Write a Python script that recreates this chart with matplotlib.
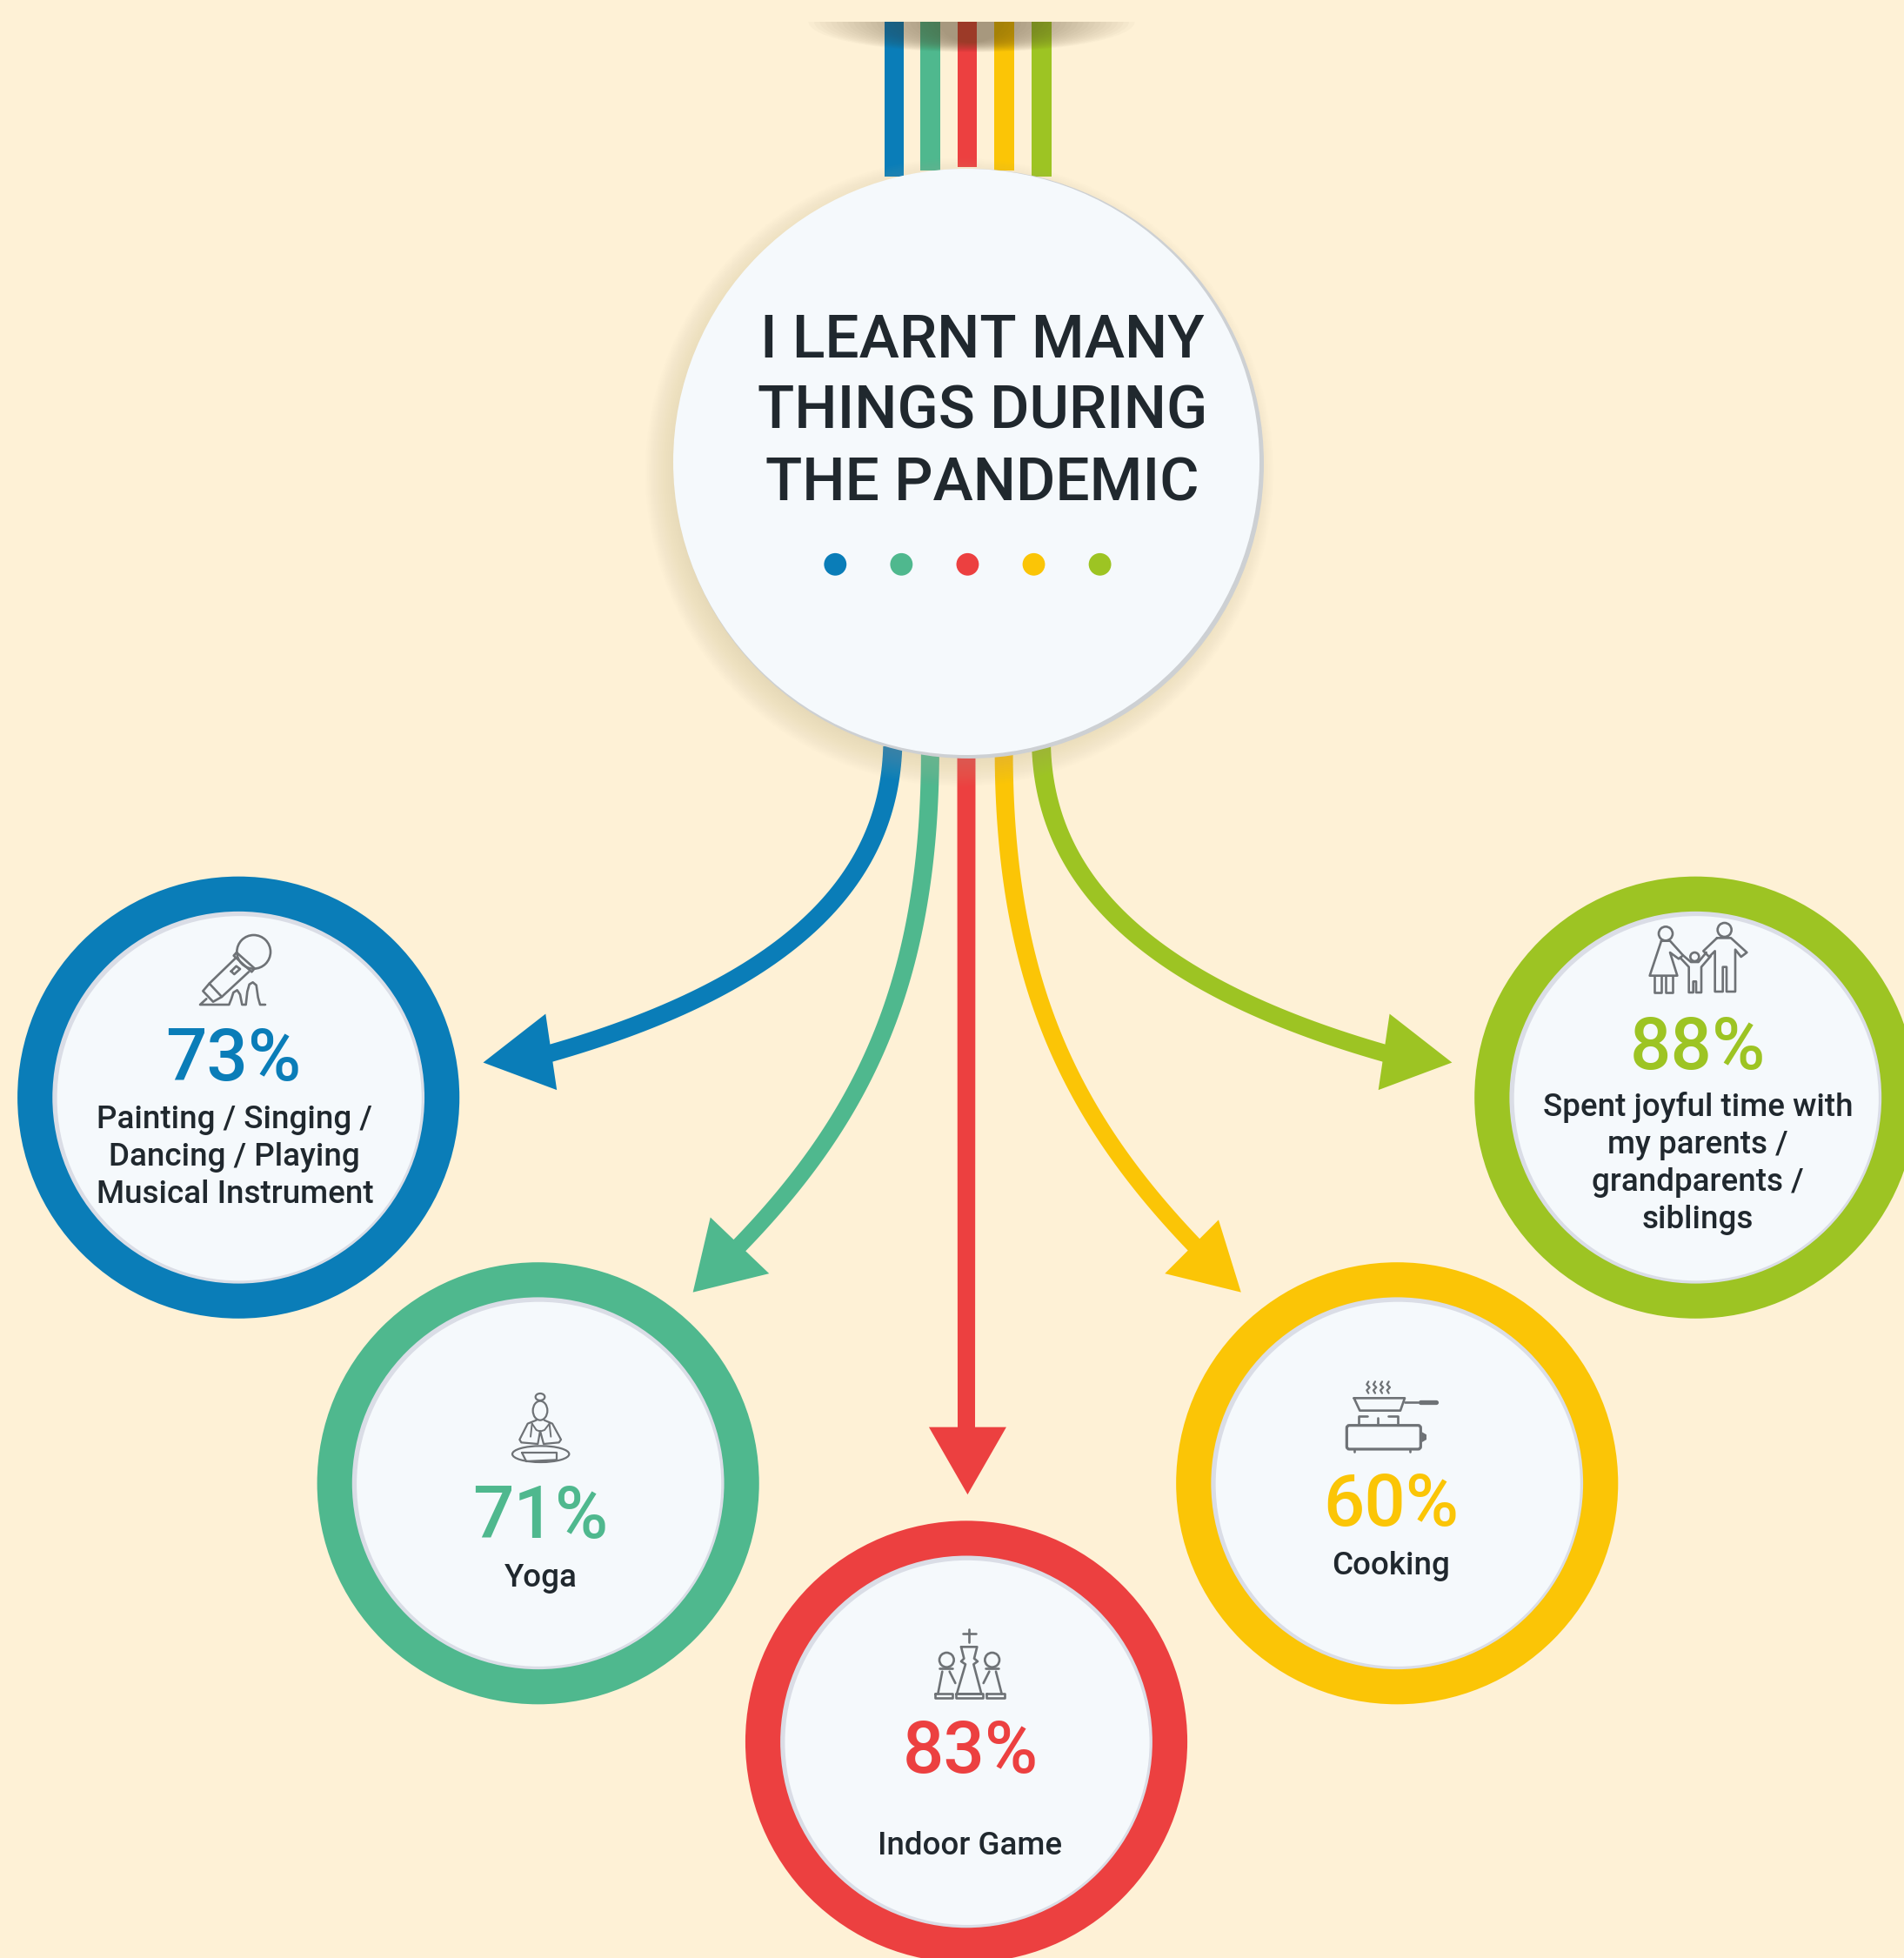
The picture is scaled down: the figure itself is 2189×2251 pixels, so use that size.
import numpy as np
import matplotlib
matplotlib.use("Agg")
import matplotlib.pyplot as plt
from matplotlib.patches import Circle, Ellipse, Polygon, Rectangle, FancyBboxPatch

plt.rcParams['font.family'] = ['Roboto', 'DejaVu Sans']

# data
title_lines = ["I LEARNT MANY", "THINGS DURING", "THE PANDEMIC"]
activities = ["Painting", "Yoga", "Indoor Game", "Cooking", "Family"]
percent = [73, 71, 83, 60, 88]
captions = [
    ["Painting / Singing /", "Dancing / Playing", "Musical Instrument"],
    ["Yoga"],
    ["Indoor Game"],
    ["Cooking"],
    ["Spent joyful time with", "my parents /", "grandparents /", "siblings"],
]
colors = ["#0A7DB8", "#4FB88E", "#EC4040", "#FBC506", "#9DC423"]

BG = "#FEF1D6"
FACE = "#F5F9FC"
INK = "#20282E"
ICON = "#6E7276"

# layout, in the 1525 wide preview coordinates
S = 2189 / 1525
ring_xy = [(191, 879), (431, 1188), (774, 1395), (1119, 1188), (1358, 879)]
pct_xy = [(187, 849), (433, 1216), (777, 1404), (1114, 1206), (1360, 840)]
cap_xy = [(188, 897), (433, 1264), (777, 1479), (1114, 1254), (1360, 887)]
title_y = [273, 330, 388]
curves = [
    [(715, 598), (712, 700), (640, 790), (425, 848)],
    [(745, 600), (745, 790), (690, 900), (582, 1008)],
    [(774, 600), (774, 800), (774, 1000), (774, 1150)],
    [(804, 600), (804, 790), (860, 900), (967, 1008)],
    [(834, 598), (837, 700), (910, 790), (1125, 848)],
]
heads = [
    [(387, 851), (437, 812), (446, 873)],
    [(555, 1035), (569, 975), (616, 1020)],
    [(775, 1197), (744, 1143), (806, 1143)],
    [(994, 1035), (976, 977), (933, 1020)],
    [(1163, 851), (1113, 812), (1104, 873)],
]

fig = plt.figure(figsize=(21.89, 22.51), dpi=100, facecolor=BG)
ax = fig.add_axes([0, 0, 1, 1])
ax.set_xlim(0, 2189)
ax.set_ylim(2251, 0)
ax.axis("off")


def tapered(ctrl, w0, w1):
    # filled stroke along a cubic bezier, getting thinner towards the arrow
    p = np.array(ctrl, dtype=float) * S
    t = np.linspace(0, 1, 80)[:, None]
    pts = (1 - t) ** 3 * p[0] + 3 * (1 - t) ** 2 * t * p[1] + 3 * (1 - t) * t ** 2 * p[2] + t ** 3 * p[3]
    d = np.gradient(pts, axis=0)
    n = np.c_[-d[:, 1], d[:, 0]] / np.linalg.norm(d, axis=1, keepdims=True)
    w = (w0 + (w1 - w0) * t) / 2
    return np.vstack([pts + n * w, (pts - n * w)[::-1]])


# stripes at the top
stripe_x = [1017, 1058, 1101, 1143, 1186]
stripe_w = [22, 23, 22, 23, 23]
stripe_end = [203, 196, 192, 196, 203]
for x, w, e, c in zip(stripe_x, stripe_w, stripe_end, colors):
    ax.add_patch(Rectangle((x, 25), w, e - 25, fc=c, ec="none", zorder=2))

clip = Rectangle((0, 25), 2189, 200, transform=ax.transData)
for f in np.linspace(1, 0.2, 24):
    e = Ellipse((1117, 25), 375 * f, 70 * (0.6 + 0.4 * f), fc="#4A3A20", ec="none", alpha=0.022, zorder=3)
    ax.add_patch(e)
    e.set_clip_path(clip)

# arrows
widths = [(22, 20), (21, 19), (21, 20), (21, 19), (22, 20)]
for c, h, w, col in zip(curves, heads, widths, colors):
    ax.add_patch(Polygon(tapered(c, *w), fc=col, ec="none", zorder=2))
    ax.add_patch(Polygon(np.array(h) * S, fc=col, ec="none", zorder=2))

# central circle with soft shadow
cx, cy, r = 1111, 531, 337
for k in range(20):
    ax.add_patch(Circle((cx - 8, cy + 12), r + 24 - k * 2, fc="#C2B48E", ec="none", alpha=0.018, zorder=3))
ax.add_patch(Circle((cx + 3, cy + 2), r + 2, fc="#CDD0D3", ec="none", zorder=4))
ax.add_patch(Circle((cx, cy), r, fc=FACE, ec="none", zorder=5))

for line, y in zip(title_lines, title_y):
    ax.text(787 * S, y * S, line, ha="center", va="center", fontsize=50, fontweight="medium", color=INK, zorder=6)
for x, c in zip([669, 722, 775, 828, 881], colors):
    ax.add_patch(Circle((x * S, 452 * S), 9 * S, fc=c, ec="none", zorder=6))

# rings and their texts
for (x, y), (px, py), (tx, ty), val, cap, c in zip(ring_xy, pct_xy, cap_xy, percent, captions, colors):
    ax.add_patch(Circle((x * S, y * S), 177 * S, fc=c, ec="none", zorder=3))
    ax.add_patch(Circle((x * S, y * S), 149 * S, fc="#DADDE6", ec="none", zorder=4))
    ax.add_patch(Circle((x * S + 1, y * S + 1), 146 * S, fc=FACE, ec="none", zorder=5))
    ax.text(px * S, py * S, f"{val}%", ha="center", va="center", fontsize=60, fontweight="medium", color=c, zorder=6)
    for i, line in enumerate(cap):
        ax.text(tx * S, (ty + 30 * i) * S, line, ha="center", va="center", fontsize=26.5, fontweight="medium", color=INK, zorder=6)


# icons are traced in the 3x crop coordinates, ox/oy is the crop corner
def line(ox, oy, pts, lw=1.9, closed=False):
    a = np.array(pts, dtype=float)
    if closed:
        a = np.vstack([a, a[0]])
    ax.plot(ox + a[:, 0] / 3, oy + a[:, 1] / 3, color=ICON, lw=lw, solid_capstyle="round", solid_joinstyle="round", zorder=7)


def ring(ox, oy, x, y, rx, ry=None, lw=1.9):
    ax.add_patch(Ellipse((ox + x / 3, oy + y / 3), 2 * rx / 3, 2 * (ry or rx) / 3, fc="none", ec=ICON, lw=lw, zorder=7))


# microphone
o = (200, 1040)
ring(*o, 275, 163, 58)
line(*o, [(216, 165), (278, 220), (268, 232), (206, 176)], closed=True)
line(*o, [(212, 185), (122, 272), (165, 318), (258, 232)])
line(*o, [(122, 272), (100, 298), (135, 335), (165, 318)])
line(*o, [(197, 230), (215, 212), (228, 222), (208, 240)], closed=True)
line(*o, [(112, 325), (90, 345), (190, 345), (198, 325), (205, 303), (218, 295), (228, 310), (235, 345), (248, 345),
          (253, 300), (260, 275), (272, 268), (284, 278), (290, 320), (297, 345), (315, 345)])

# family
o = (1870, 1040)
ring(*o, 135, 100, 24)
line(*o, [(120, 125), (80, 245), (175, 245), (150, 165), (180, 187), (195, 175), (150, 125)], closed=True)
line(*o, [(97, 245), (97, 303), (120, 303), (120, 245)])
line(*o, [(135, 245), (135, 303), (160, 303), (160, 245)])
ring(*o, 235, 180, 15)
line(*o, [(185, 183), (215, 215), (215, 303), (230, 303), (230, 265), (240, 265), (240, 303), (258, 303), (258, 215), (290, 178)])
line(*o, [(195, 175), (222, 198), (248, 198), (275, 165)])
ring(*o, 338, 87, 24)
line(*o, [(312, 115), (265, 160), (285, 180), (305, 160), (305, 300), (332, 300), (332, 215), (345, 215), (345, 300), (375, 300), (375, 155), (395, 180), (415, 165), (360, 115)], closed=True)

# yoga
o = (560, 1580)
ring(*o, 183, 125, 25, 33, lw=1.6)
ring(*o, 183, 78, 16, 12, lw=1.6)
line(*o, [(170, 158), (140, 170), (112, 225), (118, 235), (175, 240), (183, 195), (195, 240), (248, 235), (255, 225), (225, 170), (197, 158)], lw=1.6)
line(*o, [(155, 170), (150, 215)], lw=1.4)
line(*o, [(215, 170), (220, 215)], lw=1.4)
line(*o, [(155, 170), (170, 192), (183, 197), (198, 192), (215, 170)], lw=1.4)
ring(*o, 185, 275, 98, 28, lw=1.6)
line(*o, [(120, 270), (240, 270), (240, 295), (135, 300)], lw=1.6, closed=True)

# cooking
o = (1520, 1570)
for sx in [160, 183, 207, 230]:
    line(*o, [(sx, 55), (sx - 6, 65), (sx + 4, 75), (sx - 6, 85), (sx, 95)], lw=1.6)
line(*o, [(110, 112), (285, 112), (270, 155), (130, 155)], closed=True)
line(*o, [(285, 125), (330, 125)])
line(*o, [(338, 125), (392, 125)], lw=3.8)
line(*o, [(125, 200), (125, 175), (155, 175)])
line(*o, [(192, 180), (192, 200)])
line(*o, [(228, 175), (260, 175), (260, 200)])
ax.add_patch(FancyBboxPatch((o[0] + 85 / 3, o[1] + 206 / 3), 255 / 3, 82 / 3, boxstyle="round,pad=0,rounding_size=3", fc="none", ec=ICON, lw=2.3, zorder=7))
ax.add_patch(Polygon([(o[0] + 343 / 3, o[1] + 228 / 3), (o[0] + 360 / 3, o[1] + 238 / 3), (o[0] + 360 / 3, o[1] + 255 / 3), (o[0] + 343 / 3, o[1] + 265 / 3)], fc=ICON, ec="none", zorder=7))
line(*o, [(110, 290), (110, 297)])
line(*o, [(302, 290), (302, 297)])

# chess pieces
o = (1050, 1860)
line(*o, [(193, 38), (193, 85)])
line(*o, [(172, 55), (215, 55)])
line(*o, [(165, 100), (220, 100), (210, 140), (222, 150), (208, 160), (235, 262), (150, 262), (180, 160), (165, 150), (175, 140)], closed=True)
line(*o, [(148, 262), (240, 262), (240, 276), (148, 276)], closed=True)
for hx, cl, cr, b0, b1, b2, b3, bl, br in [
    (115, 90, 135, 100, 85, 125, 145, 75, 135),
    (272, 250, 295, 285, 305, 262, 242, 252, 315),
]:
    ring(*o, hx, 145, 25)
    line(*o, [(cl, 175), (cr, 175)])
    line(*o, [(b0, 185), (b1, 262)])
    line(*o, [(b2, 185), (b3, 225)])
    line(*o, [(bl, 262), (br, 262), (br, 276), (bl, 276)], closed=True)

fig.savefig("out.png", dpi=100, facecolor=BG)
